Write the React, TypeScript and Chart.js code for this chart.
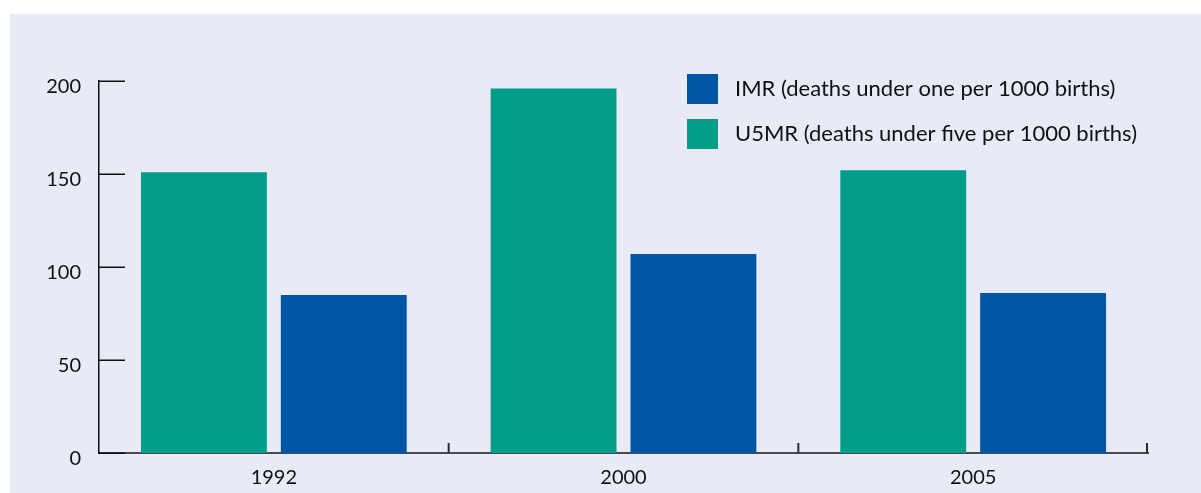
import React, { useEffect, useRef } from 'react';
import { Chart, registerables } from 'chart.js';

Chart.register(...registerables);

const categories = ['1992', '2000', '2005'];
const u5mrValues = [151, 196, 152];
const imrValues = [85, 107, 86];
const u5mrLabel = 'U5MR (deaths under five per 1000 births)';
const imrLabel = 'IMR (deaths under one per 1000 births)';
const yTickValues = [0, 50, 100, 150, 200];

const GREEN = '#029d88';
const BLUE = '#0055a4';
const BG = '#e8eaf6';
const FONT = 'Lato, "Open Sans", sans-serif';

const decorPlugin = {
  id: 'decor',
  beforeDraw(chart: any) {
    const { ctx, width, height } = chart;
    ctx.save();
    ctx.fillStyle = '#ffffff';
    ctx.fillRect(0, 0, width, height);
    ctx.fillStyle = BG;
    ctx.fillRect(10, 14, width - 10, height - 14);
    ctx.restore();
  },
  afterDraw(chart: any) {
    const { ctx, chartArea } = chart;
    const y = chart.scales.y;
    const x = chart.scales.x;
    ctx.save();
    // y ticks drawn inward
    ctx.strokeStyle = '#111111';
    ctx.lineWidth = 1.5;
    yTickValues.forEach((v) => {
      const py = Math.round(y.getPixelForValue(v)) + 0.25;
      ctx.beginPath();
      ctx.moveTo(chartArea.left, py);
      ctx.lineTo(chartArea.left + 26, py);
      ctx.stroke();
    });
    // x boundary ticks drawn upward
    ctx.strokeStyle = '#2a2a30';
    ctx.lineWidth = 2;
    const n = categories.length;
    for (let i = 0; i < n; i++) {
      let bx;
      if (i < n - 1) bx = (x.getPixelForValue(i) + x.getPixelForValue(i + 1)) / 2;
      else bx = chartArea.right - 1;
      ctx.beginPath();
      ctx.moveTo(bx, chartArea.bottom);
      ctx.lineTo(bx, chartArea.bottom - 10);
      ctx.stroke();
    }
    // legend
    const items = [
      { label: imrLabel, color: BLUE },
      { label: u5mrLabel, color: GREEN },
    ];
    ctx.font = `22px ${FONT}`;
    ctx.textBaseline = 'middle';
    ctx.textAlign = 'left';
    items.forEach((it, i) => {
      const top = 74 + i * 45;
      ctx.fillStyle = it.color;
      ctx.fillRect(687, top, 31, 30);
      ctx.fillStyle = '#111111';
      ctx.fillText(it.label, 735, top + 15);
    });
    ctx.restore();
  },
};

export default function App() {
  const canvasRef = useRef<HTMLCanvasElement | null>(null);

  useEffect(() => {
    document.body.style.margin = '0';
    const canvas = canvasRef.current;
    if (!canvas) return;
    const chart = new Chart(canvas, {
      type: 'bar',
      data: {
        labels: categories,
        datasets: [
          {
            label: u5mrLabel,
            data: u5mrValues,
            backgroundColor: GREEN,
            barPercentage: 0.9,
            categoryPercentage: 0.8,
          },
          {
            label: imrLabel,
            data: imrValues,
            backgroundColor: BLUE,
            barPercentage: 0.9,
            categoryPercentage: 0.8,
          },
        ],
      },
      options: {
        responsive: false,
        animation: false,
        devicePixelRatio: 1,
        layout: { padding: { top: 81, right: 53, left: 0, bottom: 0 } },
        plugins: {
          legend: { display: false },
          tooltip: { enabled: false },
        },
        scales: {
          x: {
            grid: { display: false, drawTicks: false },
            border: { display: true, color: '#4a4a52', width: 2 },
            ticks: {
              color: '#111111',
              font: { family: FONT, size: 20 },
              padding: 13,
            },
            afterFit(scale: any) {
              scale.height = 40;
            },
          },
          y: {
            min: 0,
            max: 200,
            grid: { display: false, drawTicks: false },
            border: { display: true, color: '#111111', width: 1.5 },
            afterBuildTicks(scale: any) {
              scale.ticks = yTickValues.map((v) => ({ value: v }));
            },
            ticks: {
              color: '#111111',
              font: { family: FONT, size: 20 },
              padding: 18,
              labelOffset: 6,
            },
            afterFit(scale: any) {
              scale.width = 99;
            },
          },
        },
      },
      plugins: [decorPlugin],
    });
    return () => chart.destroy();
  }, []);

  return (
    <div style={{ width: 1201, height: 493 }}>
      <canvas ref={canvasRef} width={1201} height={493} style={{ display: 'block' }} />
    </div>
  );
}
